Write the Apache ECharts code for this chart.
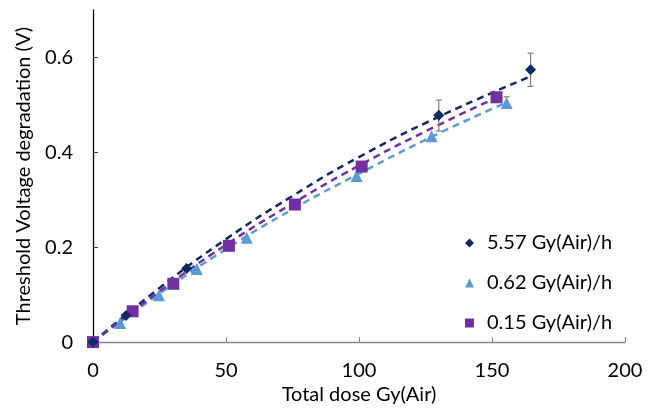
<!DOCTYPE html>
<html>
<head>
<meta charset="utf-8">
<script src="https://cdn.jsdelivr.net/npm/echarts@6/dist/echarts.min.js"></script>
<style>
  html, body { margin: 0; padding: 0; background: #fff; }
  #chart { width: 652px; height: 410px; }
</style>
</head>
<body>
<div id="chart"></div>
<script>
// measured points [dose, dV]
var dose557 = [[0, 0], [12.4, 0.056], [35.2, 0.155], [130, 0.478], [164.5, 0.574]];
var dose062 = [[0, 0], [10.2, 0.04], [24.8, 0.099], [39, 0.154], [57.8, 0.22], [99.1, 0.35], [127.3, 0.434], [155.5, 0.504]];
var dose015 = [[0, 0], [14.9, 0.065], [30.2, 0.123], [51.1, 0.203], [75.9, 0.29], [101, 0.37], [151.7, 0.516]];

// error bars [dose, low, high]
var err557 = [[130, 0.445, 0.51], [164.5, 0.539, 0.609]];
var err062 = [[155.5, 0.494, 0.517]];

// dashed trend lines
var trend557 = [[0, 0], [25, 0.114], [50, 0.217], [75, 0.308], [100, 0.39], [130, 0.475], [164.5, 0.56]];
var trend062 = [[0, 0], [25, 0.102], [50, 0.196], [75, 0.28], [100, 0.355], [130, 0.44], [155.5, 0.505]];
var trend015 = [[0, 0], [25, 0.107], [50, 0.205], [75, 0.292], [100, 0.372], [130, 0.458], [151.7, 0.515]];

var names = ['5.57 Gy(Air)/h', '0.62 Gy(Air)/h', '0.15 Gy(Air)/h'];
var colors = ['#0e2a63', '#5b9bd5', '#7030a0'];

var xTicks = [0, 50, 100, 150, 200];
var yTicks = [0, 0.2, 0.4, 0.6];

var font = 'Lato, "Open Sans", sans-serif';

function errorSeries(data) {
  return {
    type: 'custom',
    silent: true,
    z: 3,
    data: data,
    renderItem: function(params, api) {
      var x = api.value(0);
      var lo = api.coord([x, api.value(1)]);
      var hi = api.coord([x, api.value(2)]);
      var w = 3;
      var style = { stroke: '#7f7f7f', lineWidth: 1.2 };
      return {
        type: 'group',
        children: [
          { type: 'line', shape: { x1: lo[0], y1: lo[1], x2: hi[0], y2: hi[1] }, style: style },
          { type: 'line', shape: { x1: lo[0] - w, y1: lo[1], x2: lo[0] + w, y2: lo[1] }, style: style },
          { type: 'line', shape: { x1: hi[0] - w, y1: hi[1], x2: hi[0] + w, y2: hi[1] }, style: style }
        ]
      };
    }
  };
}

function trendSeries(data, color) {
  return {
    type: 'line',
    data: data,
    smooth: true,
    symbol: 'none',
    silent: true,
    z: 2,
    lineStyle: { color: color, width: 2.5, type: [7, 5] }
  };
}

var chart = echarts.init(document.getElementById('chart'));
chart.setOption({
  animation: false,
  textStyle: { fontFamily: font },
  grid: { left: 93, right: 27, top: 10, bottom: 62 },
  legend: {
    data: names,
    orient: 'vertical',
    left: 460,
    top: 226,
    itemGap: 16,
    itemWidth: 9,
    itemHeight: 9,
    textStyle: { fontSize: 20, lineHeight: 24, color: '#000', fontFamily: font, padding: [0, 0, 0, 8] }
  },
  xAxis: {
    type: 'value',
    min: 0,
    max: 200,
    interval: 50,
    name: 'Total dose Gy(Air)',
    nameLocation: 'middle',
    nameGap: 38,
    nameTextStyle: { fontSize: 20, color: '#000' },
    axisLine: { lineStyle: { color: '#868686', width: 1.3 } },
    axisTick: { inside: true, length: 5, lineStyle: { color: '#868686' }, customValues: xTicks },
    axisLabel: { fontSize: 20, color: '#000', margin: 18, customValues: xTicks },
    splitLine: { show: false }
  },
  yAxis: {
    type: 'value',
    min: 0,
    max: 0.7,
    name: 'Threshold Voltage degradation (V)',
    nameLocation: 'middle',
    nameGap: 59,
    nameTextStyle: { fontSize: 20, color: '#000' },
    axisLine: { lineStyle: { color: '#000', width: 1.3 } },
    axisTick: { inside: true, length: 5, lineStyle: { color: '#444' }, customValues: yTicks },
    axisLabel: { fontSize: 20, color: '#000', margin: 20, customValues: yTicks },
    splitLine: { show: false }
  },
  series: [
    trendSeries(trend557, colors[0]),
    trendSeries(trend062, colors[1]),
    trendSeries(trend015, colors[2]),
    errorSeries(err557),
    errorSeries(err062),
    { name: names[0], type: 'scatter', data: dose557, symbol: 'diamond', symbolSize: 11, z: 5, itemStyle: { color: colors[0], opacity: 1 } },
    { name: names[1], type: 'scatter', data: dose062, symbol: 'triangle', symbolSize: 12, z: 4, itemStyle: { color: colors[1], opacity: 1 } },
    { name: names[2], type: 'scatter', data: dose015, symbol: 'rect', symbolSize: 12, z: 4, itemStyle: { color: colors[2], opacity: 1 } }
  ]
});
</script>
</body>
</html>
